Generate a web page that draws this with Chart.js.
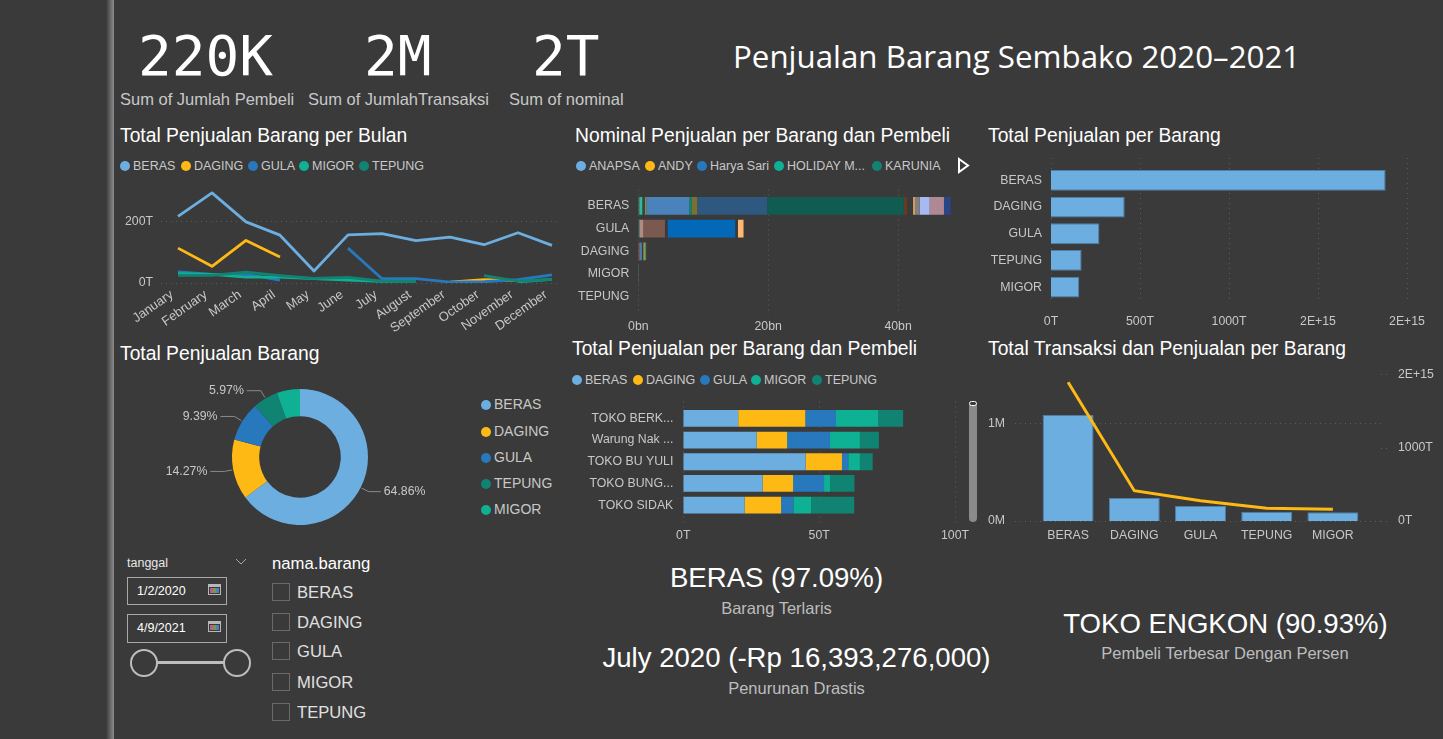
<!DOCTYPE html>
<html><head><meta charset="utf-8">
<script src="https://cdn.jsdelivr.net/npm/chart.js@4/dist/chart.umd.min.js"></script>
<style>
html,body{margin:0;padding:0;background:#3a3a3a;width:1443px;height:739px;overflow:hidden;font-family:"Liberation Sans",Arial,sans-serif}
.t{position:absolute;white-space:nowrap;line-height:1}
.title{color:#fff;font-size:19.3px}
.kpi{color:#fff;font-family:"DejaVu Sans Mono",monospace;font-size:56px}
.sub{color:#c8c8c8;font-size:16.5px}
.big{color:#fff;font-size:27.6px}
.c{transform:translateX(-50%)}
.wrap{position:absolute;overflow:hidden}
.wrap canvas{position:absolute;left:0;top:0}
.leg{position:absolute;white-space:nowrap;font-size:12.5px;color:#c8c8c8;line-height:14px}
.leg i{display:inline-block;width:10px;height:10px;border-radius:50%;vertical-align:-1px;margin-right:3px}
.leg span{position:absolute;top:0}
.dleg{position:absolute;font-size:14px;color:#c8c8c8;line-height:14px;white-space:nowrap}
.dleg i{display:inline-block;width:10px;height:10px;border-radius:50%;margin-right:3px;vertical-align:-1px}
.box{position:absolute;border:1px solid #a8a8a8;box-sizing:border-box;color:#fff;font-size:12.5px;line-height:27px;padding-left:9px}
.cb{position:absolute;width:16px;height:16px;border:1px solid #6a6a6a}
.ring{position:absolute;border:2px solid #bdbdbd;border-radius:50%;box-sizing:border-box;background:#3a3a3a}
</style></head><body>
<div style="position:absolute;left:106px;top:0;width:8px;height:739px;background:linear-gradient(90deg,#3a3a3a,#8c8c8c)"></div>

<div class="t kpi" style="left:138px;top:28px">220K</div>
<div class="t kpi" style="left:364px;top:28px">2M</div>
<div class="t kpi" style="left:532px;top:28px">2T</div>
<div class="t sub" style="left:120px;top:91px">Sum of Jumlah Pembeli</div>
<div class="t sub" style="left:308px;top:91px">Sum of JumlahTransaksi</div>
<div class="t sub" style="left:509px;top:91px">Sum of nominal</div>
<div class="t" style="left:733px;top:41px;color:#fff;font-size:31.3px;font-family:'Open Sans',sans-serif">Penjualan Barang Sembako 2020–2021</div>

<div class="t title" style="left:120px;top:126px">Total Penjualan Barang per Bulan</div>
<div class="t title" style="left:575px;top:126px">Nominal Penjualan per Barang dan Pembeli</div>
<div class="t title" style="left:988px;top:126px">Total Penjualan per Barang</div>
<div class="t title" style="left:120px;top:344px">Total Penjualan Barang</div>
<div class="t title" style="left:572px;top:339px">Total Penjualan per Barang dan Pembeli</div>
<div class="t title" style="left:988px;top:339px">Total Transaksi dan Penjualan per Barang</div>

<div class="leg" id="leg1" style="left:120px;top:159px"></div>
<div class="leg" id="leg2" style="left:576px;top:159px"></div>
<div class="leg" id="leg3" style="left:572px;top:373px"></div>
<div id="leg4"></div>

<svg style="position:absolute;left:957px;top:157px" width="13" height="17"><path d="M2 2 L11 8.5 L2 15 Z" fill="none" stroke="#fff" stroke-width="2"/></svg>

<div class="wrap" style="left:110px;top:175px;width:450px;height:165px"><canvas id="c1"></canvas></div>
<div class="wrap" style="left:570px;top:185px;width:400px;height:150px"><canvas id="c2"></canvas></div>
<div class="wrap" style="left:980px;top:150px;width:450px;height:185px"><canvas id="c3"></canvas></div>
<div class="wrap" style="left:150px;top:372px;width:300px;height:170px"><canvas id="c4"></canvas></div>
<div class="wrap" style="left:570px;top:395px;width:400px;height:150px"><canvas id="c5"></canvas></div>
<div class="wrap" style="left:980px;top:360px;width:460px;height:185px"><canvas id="c6"></canvas></div>

<div style="position:absolute;left:969px;top:402px;width:8px;height:120px;background:#8a8a8a;border-radius:4px"></div>
<div style="position:absolute;left:969px;top:401px;width:6px;height:3px;border:1px solid #fff;border-radius:3px;background:#3a3a3a"></div>

<div class="t big c" style="left:776.5px;top:564px">BERAS (97.09%)</div>
<div class="t sub c" style="left:776.5px;top:600px;color:#bdbdbd">Barang Terlaris</div>
<div class="t big c" style="left:796.5px;top:644px">July 2020 (-Rp 16,393,276,000)</div>
<div class="t sub c" style="left:796.5px;top:680px;color:#bdbdbd">Penurunan Drastis</div>
<div class="t big c" style="left:1225.5px;top:610px">TOKO ENGKON (90.93%)</div>
<div class="t sub c" style="left:1225px;top:645px;color:#bdbdbd">Pembeli Terbesar Dengan Persen</div>

<div class="t" style="left:127px;top:557px;color:#e8e8e8;font-size:12.5px">tanggal</div>
<svg style="position:absolute;left:235px;top:558px" width="12" height="8"><path d="M1 1 L6 6 L11 1" fill="none" stroke="#a8a8a8" stroke-width="1"/></svg>
<div class="box" style="left:127px;top:577px;width:100px;height:28px">1/2/2020</div>
<div class="box" style="left:127px;top:614px;width:100px;height:29px">4/9/2021</div>
<svg style="position:absolute;left:208px;top:584px" width="14" height="12"><rect x=".5" y=".5" width="12" height="10" fill="none" stroke="#b8b8b8"/><rect x="1" y="1" width="11" height="2" fill="#b8b8b8"/><rect x="2" y="4" width="3" height="5" fill="#c05a8a"/><rect x="5" y="4" width="3" height="5" fill="#6aa04a"/><rect x="8" y="4" width="3" height="5" fill="#5a7ac0"/></svg>
<svg style="position:absolute;left:208px;top:621px" width="14" height="12"><rect x=".5" y=".5" width="12" height="10" fill="none" stroke="#b8b8b8"/><rect x="1" y="1" width="11" height="2" fill="#b8b8b8"/><rect x="2" y="4" width="3" height="5" fill="#c05a8a"/><rect x="5" y="4" width="3" height="5" fill="#6aa04a"/><rect x="8" y="4" width="3" height="5" fill="#5a7ac0"/></svg>
<div style="position:absolute;left:150px;top:661px;width:80px;height:3px;background:#bdbdbd"></div>
<div class="ring" style="left:130px;top:649px;width:28px;height:28px"></div>
<div class="ring" style="left:223px;top:649px;width:28px;height:28px"></div>
<div class="t" style="left:272px;top:556px;color:#fff;font-size:16.7px">nama.barang</div>
<div id="slicer"></div>

<script>
const months=["January","February","March","April","May","June","July","August","September","October","November","December"];
const barang=["BERAS","DAGING","GULA","MIGOR","TEPUNG"];
const warna=["#6CAEE0","#FFB914","#2878BD","#0EB194","#108372"];
const berasBulan=[216,292,198,155,39,156,160,137,149,124,163,122];
const dagingBulan=[113,54,138,84,null,null,null,null,3,11,8,null];
const gulaBulan=[36,28,28,9,null,113,14,14,3,4,11,26];
const migorBulan=[30,28,19,19,14,9,5,6,null,null,4,12];
const tepungBulan=[25,25,35,24,15,18,6,6,null,24,6,12];

const legendaPembeli=["ANAPSA","ANDY","Harya Sari","HOLIDAY M...","KARUNIA"];
const barisNominal=["BERAS","GULA","DAGING","MIGOR","TEPUNG"];
const nominalBeras=[0.15,0.46,0.41,0.26,6.56,0.41,0.82,10.77,21.03,0.51,0.92,0.3,0.72,1.54,2.2,1.03];
const warnaBeras=["#4a7a70","#2fb89b","#2f4a45","#8a8a50","#4a82bc","#17806e","#7a7030","#2f5880","#115c50","#6a3a20","#3a3a3a","#d8a060","#808080","#a8b8f0","#b08894","#2a4488"];
const nominalGula=[0.15,0.62,3.33,0.41,10.41,0.41,0.87];
const warnaGula=["#2f6a60","#b08c80","#7a5a50","#3a3a3a","#0468b8","#3a3a3a","#ffb870"];
const nominalDaging=[0.15,0.41,0.2,0.25,0.2];
const warnaDaging=["#a05040","#4a7ab0","#3a3a3a","#b0a040","#409070"];
const nominalMigor=[0.1];
const warnaMigor=["#4a6a6a"];
const nominalTepung=[0.03];
const warnaTepung=["#4a5a5a"];

const barangUrut=["BERAS","DAGING","GULA","TEPUNG","MIGOR"];
const warnaUrut=["#6CAEE0","#FFB914","#2878BD","#108372","#0EB194"];
const totalPenjualan=[1880,414,272,172,159];
const totalTransaksi=[1.084,0.235,0.153,0.095,0.089];
const totalGaris=[1892,413,277,173,160];
const tickT=["0T","500T","1000T","2E+15","2E+15"];
const persenDonat=[64.86,14.27,9.39,5.97,5.51];
const labelDonat=["64.86%","14.27%","9.39%","5.97%",""];

const pembeli=["TOKO BERK...","Warung Nak ...","TOKO BU YULI","TOKO BUNG...","TOKO SIDAK"];
const pembeliBeras=[20.2,27,45,29.2,22.6];
const pembeliDaging=[24.7,11.2,13.4,11.2,13.4];
const pembeliGula=[11.3,15.8,2.3,11.4,4.5];
const pembeliMigor=[15.6,11,4.3,2.2,6.6];
const pembeliTepung=[9.1,7,4.7,9,15.8];
const slicerItems=["BERAS","DAGING","GULA","MIGOR","TEPUNG"];

const TICK="#c8c8c8", FONT={family:"'Liberation Sans',Arial,sans-serif",size:12.3};
Chart.defaults.animation=false;
Chart.defaults.responsive=false;
Chart.defaults.font=FONT;
Chart.defaults.color=TICK;
Chart.defaults.plugins.legend.display=false;
Chart.defaults.plugins.tooltip.enabled=false;

// dotted grid lines taken from the scale ticks, with an overhang past the plot area
const dotGrid={id:"dotGrid",beforeDatasetsDraw(ch,_,o){
  if(!o.lines)return; const g=ch.ctx,a=ch.chartArea;
  g.save();g.strokeStyle="#5c5c5c";g.lineWidth=1;g.setLineDash([1,4]);
  o.lines.forEach(l=>{const s=ch.scales[l.axis];
    s.ticks.forEach((t,i)=>{const p=Math.round(s.getPixelForTick(i))+.5;g.beginPath();
      if(s.isHorizontal()){g.moveTo(p,a.top-l.before);g.lineTo(p,a.bottom+l.after);}
      else{g.moveTo(a.left-l.before,p);g.lineTo(a.right+l.after,p);}
      g.stroke();});});
  g.restore();}};
Chart.register(dotGrid);

function size(id,w,h){const c=document.getElementById(id);c.width=w;c.height=h;c.style.width=w+"px";c.style.height=h+"px";return c;}
function noPad(s){s.paddingTop=0;s.paddingBottom=0;s.paddingLeft=0;s.paddingRight=0;}
function yAxis(w,extra){return Object.assign({grid:{display:false},border:{display:false},afterFit:s=>{s.width=w;noPad(s)}},extra||{});}
function xAxis(h,extra){return Object.assign({grid:{display:false},border:{display:false},afterFit:s=>{s.height=h;noPad(s)}},extra||{});}

// legends
function legend(id,names,cols,gap){const el=document.getElementById(id);
  names.forEach((n,i)=>{const s=document.createElement("span");s.style.left=gap[i]+"px";
    s.innerHTML='<i style="background:'+cols[i]+'"></i>'+n;el.appendChild(s);});}
legend("leg1",barang,warna,[0,61,128,179,239]);
legend("leg2",legendaPembeli,warna,[0,69,121,198,296]);
legend("leg3",barang,warna,[0,61,128,179,240]);
barangUrut.forEach((n,i)=>{const d=document.createElement("div");d.className="dleg";d.style.left="481px";d.style.top=(397.4+i*26.2)+"px";
  d.innerHTML='<i style="background:'+warnaUrut[i]+'"></i>'+n;document.getElementById("leg4").appendChild(d);});
slicerItems.forEach((n,i)=>{const top=[583,613,642,673,703][i];const b=document.createElement("div");b.className="cb";b.style.left="272px";b.style.top=top+"px";
  const t=document.createElement("div");t.className="t";t.style.cssText="left:297px;top:"+(top+1.5)+"px;color:#e0e0e0;font-size:16.6px";t.textContent=n;
  const s=document.getElementById("slicer");s.appendChild(b);s.appendChild(t);});

// line by month
const lineSeries=[berasBulan,dagingBulan,gulaBulan,migorBulan,tepungBulan];
new Chart(size("c1",459,165),{type:"line",
  data:{labels:months,datasets:lineSeries.map((d,i)=>({label:barang[i],data:d,order:4-i,borderColor:warna[i],borderWidth:2.8,pointRadius:0,tension:0,spanGaps:false,borderJoinStyle:"round",borderCapStyle:"butt"}))},
  options:{plugins:{dotGrid:{lines:[{axis:"y",before:0,after:0}]}},
    scales:{x:xAxis(57,{offset:true,ticks:{autoSkip:false,maxRotation:35,minRotation:35,padding:-4,labelOffset:-6,font:{size:13}}}),
      y:yAxis(51,{min:0,max:350,afterBuildTicks:s=>{s.ticks=[{value:0},{value:200}]},ticks:{callback:v=>v+"T",padding:0}})}}});

// nominal stacked
const nomRows=[nominalBeras,nominalGula,nominalDaging,nominalMigor,nominalTepung];
const nomCols=[warnaBeras,warnaGula,warnaDaging,warnaMigor,warnaTepung];
const nomSets=[];
nomRows.forEach((row,r)=>row.forEach((v,i)=>{const d=barisNominal.map((_,k)=>k===r?v:null);
  nomSets.push({label:barisNominal[r]+" "+(i+1),data:d,backgroundColor:nomCols[r][i],categoryPercentage:.78,barPercentage:1});}));
new Chart(size("c2",400,150),{type:"bar",data:{labels:barisNominal,datasets:nomSets},
  options:{indexAxis:"y",layout:{padding:{top:9.6,right:18}},
    plugins:{dotGrid:{lines:[{axis:"x",before:5,after:7}]}},
    scales:{x:xAxis(27,{stacked:true,min:0,max:48.3,afterBuildTicks:s=>{s.ticks=[{value:0},{value:20},{value:40}]},ticks:{callback:v=>v+"bn",padding:3}}),
      y:yAxis(68.3,{stacked:true,ticks:{padding:1}})}}});

// total per barang
new Chart(size("c3",450,185),{type:"bar",data:{labels:barangUrut,datasets:[{label:"Total",data:totalPenjualan,backgroundColor:warna[0],borderColor:"#4f7fa6",borderWidth:1,categoryPercentage:.78,barPercentage:1}]},
  options:{indexAxis:"y",layout:{padding:{top:17,right:23}},
    plugins:{dotGrid:{lines:[{axis:"x",before:9,after:0}]}},
    scales:{x:xAxis(34.5,{min:0,max:2000,ticks:{stepSize:500,callback:(v,i)=>tickT[i],padding:6}}),
      y:yAxis(71,{ticks:{padding:1}})}}});

// donut
const donutLabels={id:"donutLabels",afterDatasetsDraw(ch){const g=ch.ctx,arcs=ch.getDatasetMeta(0).data;
  g.save();g.font="12.3px 'Liberation Sans',Arial,sans-serif";g.textBaseline="middle";
  arcs.forEach((a,i)=>{if(!labelDonat[i])return;const m=(a.startAngle+a.endAngle)/2,r=a.outerRadius;
    const x1=a.x+Math.cos(m)*(r+1),y1=a.y+Math.sin(m)*(r+1),x2=a.x+Math.cos(m)*(r+9),y2=a.y+Math.sin(m)*(r+9);
    const right=x2>a.x,x3=x2+(right?12:-14);
    g.strokeStyle="#8a8a8a";g.lineWidth=1;g.beginPath();g.moveTo(x1,y1);g.lineTo(x2,y2);g.lineTo(x3,y2);g.stroke();
    g.fillStyle=TICK;g.textAlign=right?"left":"right";g.fillText(labelDonat[i],x3+(right?3:-3),y2);});
  g.restore();}};
new Chart(size("c4",300,170),{type:"doughnut",data:{labels:barangUrut,datasets:[{data:persenDonat,backgroundColor:warnaUrut,borderWidth:0}]},
  options:{cutout:"60%",radius:68},plugins:[donutLabels]});

// stacked per pembeli
const pembeliSeries=[pembeliBeras,pembeliDaging,pembeliGula,pembeliMigor,pembeliTepung];
new Chart(size("c5",400,150),{type:"bar",data:{labels:pembeli,datasets:pembeliSeries.map((d,i)=>({label:barang[i],data:d,backgroundColor:warna[i],categoryPercentage:.775,barPercentage:1}))},
  options:{indexAxis:"y",layout:{padding:{top:12.5,right:15}},
    plugins:{dotGrid:{lines:[{axis:"x",before:6,after:7.5}]}},
    scales:{x:xAxis(29,{stacked:true,min:0,max:100,afterBuildTicks:s=>{s.ticks=[{value:0},{value:50},{value:100}]},ticks:{callback:v=>v+"T",padding:4}}),
      y:yAxis(113.3,{stacked:true,ticks:{padding:2}})}}});

// combo
new Chart(size("c6",460,185),{data:{labels:barangUrut,datasets:[
   {type:"line",label:"Penjualan",data:totalGaris,yAxisID:"y2",borderColor:warna[1],borderWidth:3,pointRadius:0,tension:0,order:0},
   {type:"bar",label:"Transaksi",data:totalTransaksi,yAxisID:"y",backgroundColor:warna[0],borderColor:"#4f7fa6",borderWidth:1,categoryPercentage:.77,barPercentage:1,order:1}]},
  options:{layout:{padding:{top:1}},
    plugins:{dotGrid:{lines:[{axis:"y",before:20,after:19},{axis:"y2",before:-346,after:22}]}},
    scales:{x:xAxis(24,{ticks:{padding:-1,autoSkip:false,maxRotation:0}}),
      y:yAxis(55,{min:0,max:1.638,afterBuildTicks:s=>{s.ticks=[{value:0},{value:1}]},ticks:{callback:v=>v+"M",padding:22}}),
      y2:{position:"right",grid:{display:false},border:{display:false},min:0,max:2183,afterFit:s=>{s.width=74;noPad(s)},afterBuildTicks:s=>{s.ticks=[{value:0},{value:1000},{value:2000}]},
        ticks:{callback:v=>v===0?"0T":v===1000?"1000T":"2E+15",padding:24}}}}});
</script>
</body></html>
